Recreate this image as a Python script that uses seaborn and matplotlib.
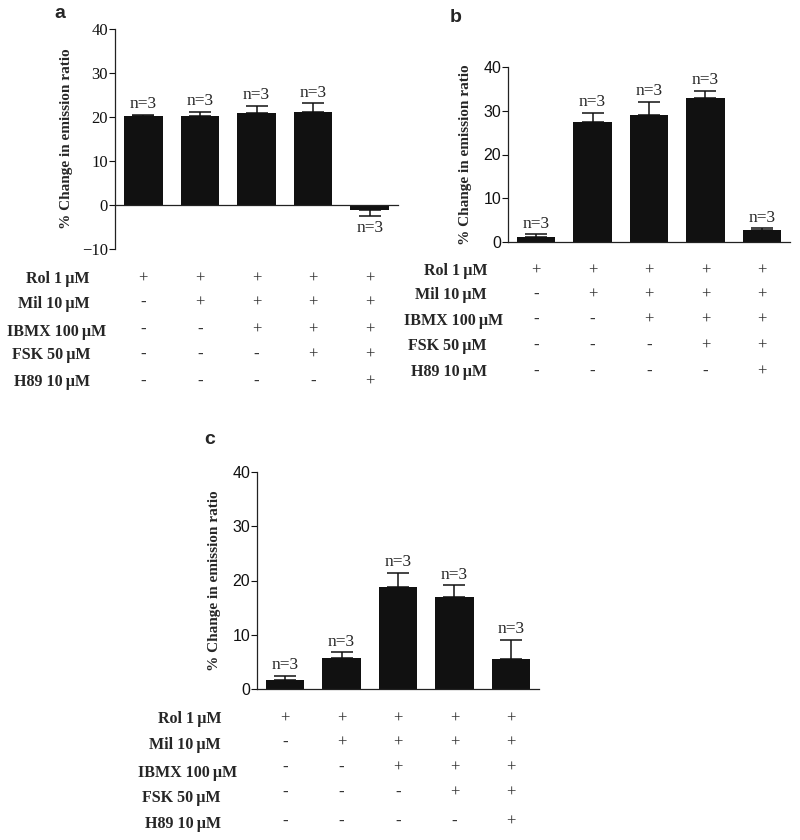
import matplotlib
matplotlib.use("Agg")
import matplotlib.pyplot as plt
import matplotlib.transforms as mtransforms
import seaborn as sns
import pandas as pd

# data
conditions = ["c1", "c2", "c3", "c4", "c5"]
row_labels = ["Rol 1\u2009μM", "Mil 10\u2009μM", "IBMX 100\u2009μM", "FSK 50\u2009μM", "H89 10\u2009μM"]
treatment = [
    ["+", "+", "+", "+", "+"],
    ["-", "+", "+", "+", "+"],
    ["-", "-", "+", "+", "+"],
    ["-", "-", "-", "+", "+"],
    ["-", "-", "-", "-", "+"],
]
n_labels = ["n=3", "n=3", "n=3", "n=3", "n=3"]

a_mean = [20.2, 20.2, 21.0, 21.2, -1.05]
a_sem = [0.3, 0.9, 1.5, 1.9, 1.4]
b_mean = [1.2, 27.4, 29.1, 33.0, 2.7]
b_sem = [0.55, 2.1, 3.0, 1.5, 0.4]
c_mean = [1.6, 5.7, 18.8, 16.9, 5.5]
c_sem = [0.8, 1.05, 2.6, 2.2, 3.55]

W, H = 800, 840
sns.set_theme(style="ticks")
plt.rcParams["font.family"] = ["Liberation Serif", "DejaVu Serif"]

fig = plt.figure(figsize=(W / 100, H / 100), dpi=100)


def rect(left, top, right, bottom):
    return [left / W, 1 - bottom / H, (right - left) / W, (bottom - top) / H]


def panel(box, means, sems, ylim, yticks, tick_family, tick_size, label_x, zero_spine,
          label_right, label_ys, sign_ys, letter, letter_xy):
    ax = fig.add_axes(rect(*box))
    df = pd.DataFrame({"cond": conditions, "val": means})
    sns.barplot(data=df, x="cond", y="val", color="#111111", width=0.68,
                saturation=1, errorbar=None, linewidth=0, ax=ax)
    lower = [s if m < 0 else 0 for m, s in zip(means, sems)]
    upper = [0 if m < 0 else s for m, s in zip(means, sems)]
    ax.errorbar(range(len(means)), means, yerr=[lower, upper], fmt="none",
                ecolor="#111111", elinewidth=1.1, capsize=8, capthick=1.1)
    for i, (m, s) in enumerate(zip(means, sems)):
        if m < 0:
            ax.annotate(n_labels[i], (i, m - s), xytext=(0, -3), textcoords="offset points",
                        ha="center", va="top", fontsize=12.5)
        else:
            ax.annotate(n_labels[i], (i, m + s), xytext=(0, 2), textcoords="offset points",
                        ha="center", va="bottom", fontsize=12.5)
    ax.set_xlim(-0.5, 4.5)
    ax.set_ylim(*ylim)
    ax.set_yticks(yticks)
    ax.set_xticks([])
    ax.set_xlabel("")
    ax.set_ylabel("% Change in emission ratio", fontsize=11, fontweight="bold")
    ax.yaxis.set_label_coords(label_x, 0.5)
    for t in ax.get_yticklabels():
        t.set_family(tick_family)
        t.set_fontsize(tick_size)
    ax.tick_params(axis="y", length=4, width=0.8, pad=1, colors="#111111")
    sns.despine(ax=ax)
    for sp in ["left", "bottom"]:
        ax.spines[sp].set_linewidth(0.9)
        ax.spines[sp].set_color("#222222")
    if zero_spine:
        ax.spines["bottom"].set_position(("data", 0))
    ax.patch.set_alpha(0)

    # treatment table below the axis
    trans = mtransforms.blended_transform_factory(ax.transData, fig.transFigure)
    for r, lab in enumerate(row_labels):
        right = label_right + (16 if lab.startswith("IBMX") else 0)
        fig.text(right / W, 1 - label_ys[r] / H, lab, ha="right", va="center",
                 fontsize=11.5, fontweight="bold")
        for c, sign in enumerate(treatment[r]):
            ax.text(c, 1 - sign_ys[r] / H, sign, transform=trans, ha="center",
                    va="center", fontsize=12, color="#333333", clip_on=False,
                    fontweight="bold" if sign == "-" else "normal")
    fig.text(letter_xy[0] / W, 1 - letter_xy[1] / H, letter, ha="center", va="center",
             fontsize=14, fontweight="bold", family=["Liberation Sans", "DejaVu Sans"])
    return ax


panel((115, 29, 398, 249), a_mean, a_sem, (-10, 40), [-10, 0, 10, 20, 30, 40],
      ["Liberation Serif", "DejaVu Serif"], 12, -0.15, True,
      90, [279, 304, 332, 355, 382], [279, 303, 330, 355, 382], "a", (60, 14))

panel((508, 67, 790, 242), b_mean, b_sem, (0, 40), [0, 10, 20, 30, 40],
      ["Liberation Sans", "DejaVu Sans"], 11.5, -0.128, False,
      487, [271, 295, 321, 346, 372], [271, 295, 320, 346, 372], "b", (456, 17))

panel((257, 472, 539, 689), c_mean, c_sem, (0, 40), [0, 10, 20, 30, 40],
      ["Liberation Sans", "DejaVu Sans"], 11.5, -0.128, False,
      221, [719, 745, 773, 798, 824], [719, 743, 768, 793, 822], "c", (210, 440))

fig.savefig("out.png", dpi=100, facecolor="white")
